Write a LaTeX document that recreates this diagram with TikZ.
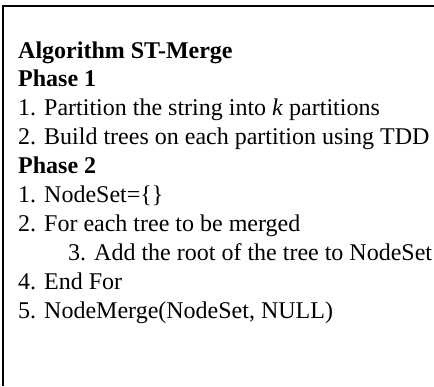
\documentclass[tikz,border=0pt]{standalone}
\usepackage{fontspec}
\setmainfont{Liberation Serif}
\usepackage{tikz}
\usetikzlibrary{positioning}

\begin{document}
\begin{tikzpicture}[
  x=1bp, y=-1bp,
  frameline/.style={draw=black, line width=1.8bp},
  head/.style={anchor=base west, inner sep=0pt, font=\fontsize{24bp}{29bp}\selectfont\bfseries},
  stepline/.style={anchor=base west, inner sep=0pt, font=\fontsize{24bp}{29bp}\selectfont}
]
  \useasboundingbox (0,0) rectangle (434,386);

  % frame: top and left edges only
  \coordinate (topleft) at (3,6);
  \coordinate (topright) at (434,6);
  \coordinate (bottomleft) at (3,386);
  \draw[frameline] (topright) -- (topleft) -- (bottomleft);

  \node[head] (title) at (18,58) {Algorithm ST-Merge};
  \node[head] (phaseone) at (18,86.9) {Phase 1};
  \node[stepline] (p1s1) at (18,115.8) {1. Partition the string into \textit{k} partitions};
  \node[stepline] (p1s2) at (18,144.7) {2. Build trees on each partition using TDD};
  \node[head] (phasetwo) at (18,173.6) {Phase 2};
  \node[stepline] (p2s1) at (18,202.5) {1. NodeSet=\{\}};
  \node[stepline] (p2s2) at (18,231.4) {2. For each tree to be merged};
  \node[stepline] (p2s3) at (68,260.3) {3. Add the root of the tree to NodeSet};
  \node[stepline] (p2s4) at (18,289.2) {4. End For};
  \node[stepline] (p2s5) at (18,318.1) {5. NodeMerge(NodeSet, NULL)};
\end{tikzpicture}
\end{document}
